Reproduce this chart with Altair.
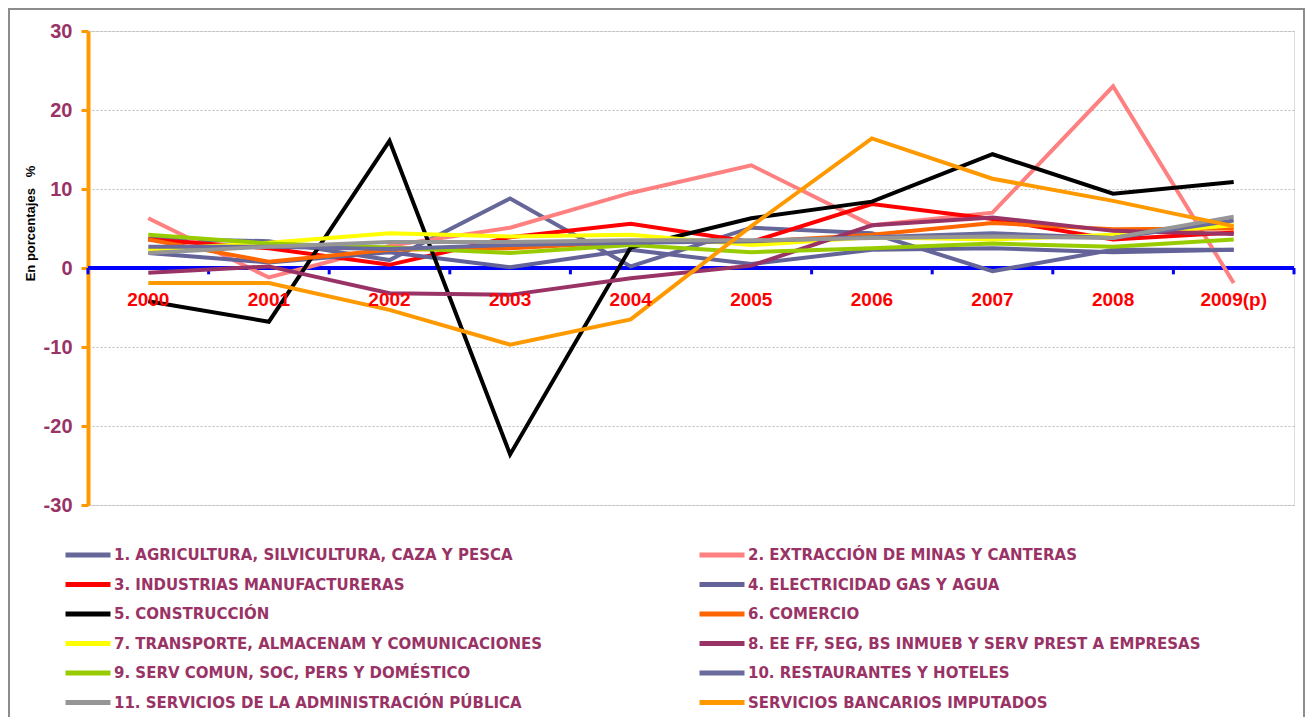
import altair as alt
import pandas as pd

years = ["2000", "2001", "2002", "2003", "2004", "2005", "2006", "2007", "2008", "2009(p)"]

series = [
    "1. AGRICULTURA, SILVICULTURA, CAZA Y PESCA",
    "2. EXTRACCIÓN DE MINAS Y CANTERAS",
    "3. INDUSTRIAS  MANUFACTURERAS",
    "4. ELECTRICIDAD GAS Y AGUA",
    "5. CONSTRUCCIÓN",
    "6. COMERCIO",
    "7. TRANSPORTE, ALMACENAM Y COMUNICACIONES",
    "8. EE FF, SEG, BS INMUEB Y SERV PREST A EMPRESAS",
    "9. SERV COMUN, SOC, PERS  Y DOMÉSTICO",
    "10. RESTAURANTES Y HOTELES",
    "11. SERVICIOS DE LA ADMINISTRACIÓN PÚBLICA",
    "SERVICIOS BANCARIOS IMPUTADOS",
]

colors = ["#666699", "#FF8080", "#FF0000", "#63639A", "#000000", "#FF6600",
          "#FFFF00", "#993366", "#99CC00", "#6A6A9C", "#969696", "#FF9900"]

agricultura  = [3.7, 3.4, 1.0, 8.8, 0.2, 5.1, 4.4, -0.4, 2.3, 2.3]
extraccion   = [6.3, -1.2, 2.8, 5.1, 9.5, 13.0, 5.4, 7.0, 23.0, -1.9]
industrias   = [3.6, 2.5, 0.4, 3.9, 5.6, 3.3, 8.1, 6.2, 3.6, 4.5]
electricidad = [1.9, 0.7, 2.0, 0.1, 2.3, 0.5, 2.3, 2.5, 2.0, 2.3]
construccion = [-4.2, -6.8, 16.1, -23.6, 2.6, 6.3, 8.4, 14.4, 9.4, 10.9]
comercio     = [3.6, 0.8, 2.3, 2.5, 3.3, 3.3, 4.2, 5.7, 4.9, 5.0]
transporte   = [2.3, 3.2, 4.4, 4.0, 4.2, 2.9, 3.9, 3.6, 4.2, 5.4]
financieros  = [-0.6, 0.2, -3.2, -3.4, -1.3, 0.3, 5.4, 6.4, 4.7, 4.3]
serv_comun   = [4.2, 3.1, 2.6, 1.9, 2.9, 2.0, 2.5, 3.1, 2.7, 3.6]
restaurantes = [2.7, 2.7, 2.4, 2.9, 3.2, 3.4, 3.9, 4.4, 3.8, 6.0]
admin_pub    = [1.9, 2.7, 3.3, 3.3, 3.5, 3.5, 3.8, 4.0, 3.8, 6.5]
bancarios    = [-1.9, -1.9, -5.3, -9.7, -6.5, 5.3, 16.4, 11.3, 8.5, 5.3]

all_values = [agricultura, extraccion, industrias, electricidad, construccion, comercio,
              transporte, financieros, serv_comun, restaurantes, admin_pub, bancarios]

y_ticks = [-30, -20, -10, 0, 10, 20, 30]

rows = []
for s, vals in zip(series, all_values):
    for i, (yr, v) in enumerate(zip(years, vals)):
        rows.append({"serie": s, "idx": i, "year": yr, "v": v})
df = pd.DataFrame(rows)

years_df = pd.DataFrame({"idx": list(range(len(years))), "year": years})
bounds_df = pd.DataFrame({"b": [i - 0.5 for i in range(len(years) + 1)]})

# legend is filled column by column: odd items left, even items right
legend_order = [0, 2, 4, 6, 8, 10, 1, 3, 5, 7, 9, 11]
dom = [series[k] for k in legend_order]
rng = [colors[k] for k in legend_order]

W, H = 1206, 474
FONT = "Liberation Sans"

xscale = alt.Scale(domain=[-0.5, len(years) - 0.5], nice=False, zero=False)
yscale = alt.Scale(domain=[-30, 30], nice=False)

color = alt.Color(
    "serie:N",
    scale=alt.Scale(domain=dom, range=rng),
    legend=alt.Legend(
        title=None, orient="none", legendX=-25, legendY=516, columns=2,
        symbolType="stroke", symbolSize=2025, symbolStrokeWidth=5, clipHeight=16,
        labelFont="DejaVu Sans", labelFontSize=15, labelFontWeight="bold",
        labelColor="#993366", labelLimit=800, labelOffset=1,
        rowPadding=13.5, columnPadding=154,
    ),
)

yaxis = alt.Axis(
    values=y_ticks, title="En porcentajes\u00a0\u00a0\u00a0%",
    labelExpr="datum.value < 0 ? '-' + abs(datum.value) : '' + datum.value",
    titleFont=FONT, titleFontSize=13, titleFontWeight="bold", titleColor="#000000",
    titleAngle=270, titleX=-58, titleY=192, titleAlign="center", titleBaseline="middle",
    labelFont=FONT, labelFontSize=20, labelFontWeight="bold", labelColor="#993366",
    labelPadding=9, domainColor="#FF9900", domainWidth=4,
    tickColor="#FF9900", tickWidth=3, tickSize=7,
    grid=True, gridColor="#BBBBBB", gridDash=[2, 2], gridWidth=1,
)

base_axes = alt.Chart(df).mark_line(opacity=0).encode(
    x=alt.X("idx:Q", scale=xscale, axis=None),
    y=alt.Y("v:Q", scale=yscale, axis=yaxis),
)

zero_rule = alt.Chart(years_df).mark_rule(color="#0000FF", strokeWidth=3).encode(
    y=alt.datum(0)
)

ticks = alt.Chart(bounds_df).mark_rule(color="#0000FF", strokeWidth=3).encode(
    x=alt.X("b:Q", scale=xscale),
    y=alt.datum(0),
    y2=alt.datum(-0.8),
)

xlabels = alt.Chart(years_df).mark_text(
    color="#FF0000", font=FONT, fontSize=19, fontWeight="bold", dy=32, baseline="middle"
).encode(
    x=alt.X("idx:Q", scale=xscale),
    y=alt.datum(0),
    text="year:N",
)

line_layers = []
for s in series:
    line_layers.append(
        alt.Chart(df).transform_filter(alt.datum.serie == s).mark_line(strokeWidth=4).encode(
            x=alt.X("idx:Q", scale=xscale),
            y=alt.Y("v:Q", scale=yscale),
            color=color,
        )
    )

border = alt.Chart(years_df).mark_rect(fillOpacity=0, stroke="#8C8C8C", strokeWidth=2).encode(
    x=alt.value(-79), x2=alt.value(1216), y=alt.value(-22), y2=alt.value(720)
)

chart = alt.layer(
    base_axes, zero_rule, ticks, *line_layers, xlabels, border
).properties(
    width=W, height=H,
    autosize=alt.AutoSizeParams(type="none"),
    padding={"left": 80, "top": 23, "right": 12, "bottom": 212},
).configure_view(stroke=None).configure(background="#FFFFFF")

chart.save("out.html", embed_options={"renderer": "svg", "actions": False})
